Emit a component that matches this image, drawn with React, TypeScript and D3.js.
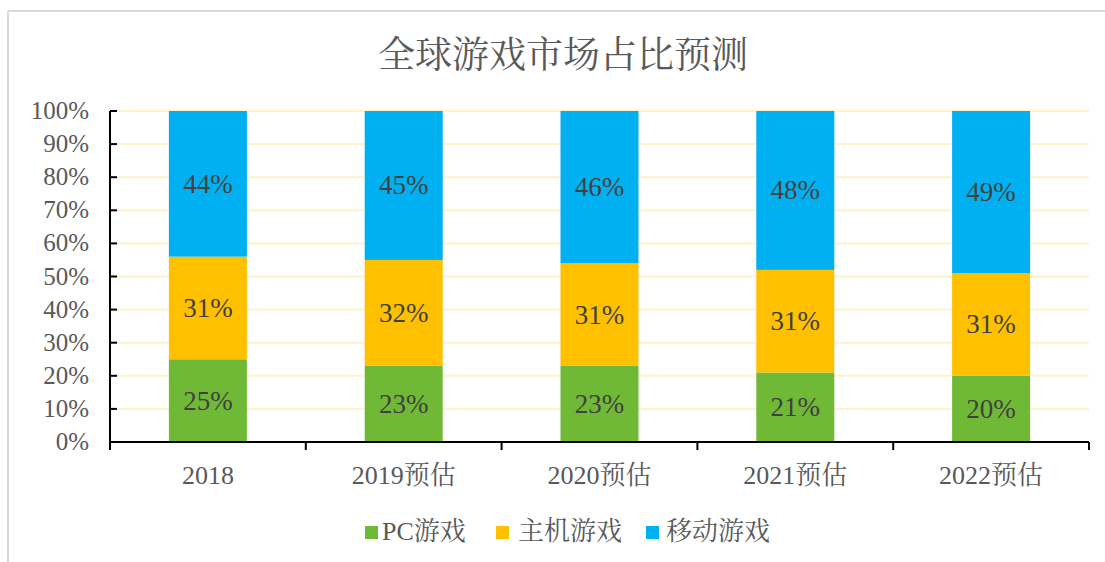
import React from "react";
import * as d3 from "d3";

const categories = ["2018", "2019预估", "2020预估", "2021预估", "2022预估"];
const seriesNames = ["PC游戏", "主机游戏", "移动游戏"];
const pcValues = [25, 23, 23, 21, 20];
const consoleValues = [31, 32, 31, 31, 31];
const mobileValues = [44, 45, 46, 48, 49];
const yTicks = [0, 10, 20, 30, 40, 50, 60, 70, 80, 90, 100];
const colors = ["#70B937", "#FFC000", "#00B0F0"];
const title = "全球游戏市场占比预测";

const W = 1105;
const H = 562;
const plot = { left: 110, right: 1089, top: 111, bottom: 442 };
const serif = "'Liberation Serif', 'Times New Roman', 'Noto Serif CJK SC', 'Noto Sans CJK SC', serif";

export default function App() {
  const x = d3.scaleBand<string>().domain(categories).range([plot.left, plot.right]);
  const step = x.step();
  const y = d3.scaleLinear().domain([0, 100]).range([plot.bottom, plot.top]);
  const rows = categories.map((c, i) => ({ cat: c, pc: pcValues[i], con: consoleValues[i], mob: mobileValues[i] }));
  const stack = d3.stack<any>().keys(["pc", "con", "mob"])(rows);
  const bw = 78;
  const legendSq = [365, 496, 646];
  const legendTx = [382, 518, 666];

  return (
    <svg width={W} height={H} style={{ position: "absolute", left: 0, top: 0 }} xmlns="http://www.w3.org/2000/svg">
      <rect x={0} y={0} width={W} height={H} fill="#fff" />
      <line x1={8} y1={11} x2={W} y2={11} stroke="#D9D9D9" strokeWidth={2} />
      <line x1={8} y1={11} x2={8} y2={H} stroke="#D9D9D9" strokeWidth={2} />
      <text x={563} y={68} textAnchor="middle" fontFamily={serif} fontSize={37} fill="#595959">{title}</text>
      {yTicks.filter(t => t > 0).map(t => (
        <line key={"g" + t} x1={plot.left + 7} x2={plot.right} y1={y(t)} y2={y(t)} stroke="#FFF2CC" strokeWidth={2} />
      ))}
      {stack.map((s, si) => s.map((d, i) => {
        const cx = (x(categories[i]) as number) + step / 2;
        const y0 = y(d[0]);
        const y1 = y(d[1]);
        return (
          <g key={si + "-" + i}>
            <rect x={cx - bw / 2} y={y1} width={bw} height={y0 - y1} fill={colors[si]} />
            <text x={cx} y={(y0 + y1) / 2 + 9} textAnchor="middle" fontFamily={serif} fontSize={27} fill="#404040">
              {`${d[1] - d[0]}%`}
            </text>
          </g>
        );
      }))}
      <line x1={plot.left} x2={plot.left} y1={plot.top} y2={plot.bottom + 8} stroke="#000" strokeWidth={2} />
      {yTicks.map(t => (
        <g key={"t" + t}>
          <line x1={plot.left} x2={plot.left + 7} y1={y(t)} y2={y(t)} stroke="#000" strokeWidth={2} />
          <text x={89} y={y(t) + 8} textAnchor="end" fontFamily={serif} fontSize={25} fill="#595959">{`${t}%`}</text>
        </g>
      ))}
      <line x1={plot.left} x2={plot.right} y1={plot.bottom} y2={plot.bottom} stroke="#000" strokeWidth={2} />
      {d3.range(categories.length + 1).map(i => (
        <line key={"xt" + i} x1={plot.left + step * i} x2={plot.left + step * i} y1={plot.bottom} y2={plot.bottom + 8} stroke="#000" strokeWidth={2} />
      ))}
      {categories.map(c => (
        <text key={"c" + c} x={(x(c) as number) + step / 2} y={484} textAnchor="middle" fontFamily={serif} fontSize={26} fill="#595959">{c}</text>
      ))}
      {seriesNames.map((n, i) => (
        <g key={"l" + n}>
          <rect x={legendSq[i]} y={526} width={13} height={13} fill={colors[i]} />
          <text x={legendTx[i]} y={540} fontFamily={serif} fontSize={26} fill="#595959">{n}</text>
        </g>
      ))}
    </svg>
  );
}
